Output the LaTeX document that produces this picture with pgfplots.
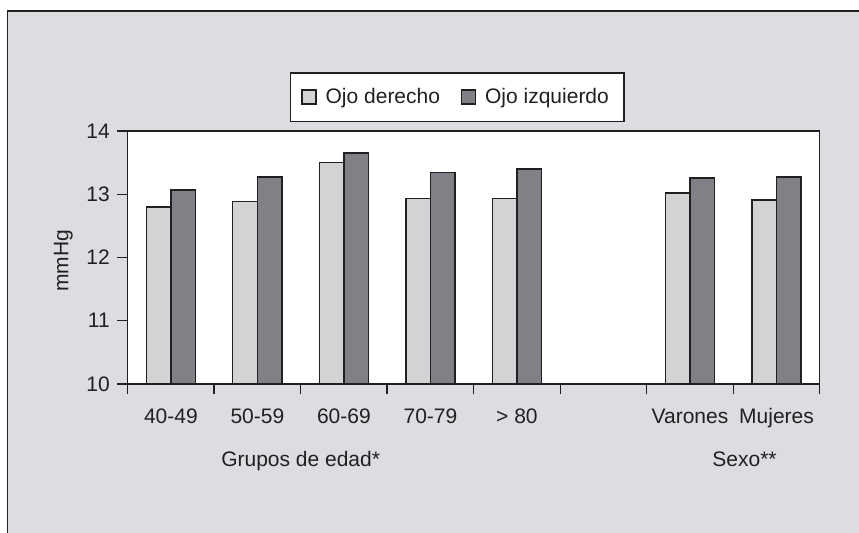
\documentclass[border=0pt]{standalone}
\usepackage{fontspec}
\setmainfont{Liberation Sans}
\usepackage{pgfplots}
\pgfplotsset{compat=1.18}
\definecolor{bg}{RGB}{220,221,224}
\definecolor{lightbar}{RGB}{210,211,213}
\definecolor{darkbar}{RGB}{128,129,134}
\definecolor{ink}{RGB}{35,31,32}
\pgfplotsset{sqlegend/.style={legend image code/.code={\draw[##1] (0pt,-3.5pt) rectangle (7pt,3.5pt);}}}
\begin{document}
\fontsize{10.5}{12.6}\selectfont
\begin{tikzpicture}
\useasboundingbox (0,0) rectangle (429.5pt,-266.5pt);
\fill[white] (0,0) rectangle (429.5pt,-266.5pt);
\fill[bg] (3.65pt,-5.65pt) rectangle (429.5pt,-266.5pt);
\draw[ink, line width=0.8pt] (3.65pt,-266.5pt) -- (3.65pt,-5.65pt) -- (429.5pt,-5.65pt);
\begin{axis}[
  at={(63.8pt,-192pt)}, anchor=south west,
  scale only axis, width=346.1pt, height=126.5pt,
  xmin=-0.5, xmax=7.5, ymin=10, ymax=14,
  clip mode=individual,
  ybar=0pt, bar width=12.3pt,
  axis background/.style={fill=white},
  axis on top,
  axis line style={ink, line width=0.7pt},
  tick style={ink, line width=0.7pt},
  tick align=outside, major tick length=5.25pt,
  xtick pos=bottom, ytick pos=left,
  xtick={-0.5,0.5,1.5,2.5,3.5,4.5,5.5,6.5,7.5}, xticklabels={},
  extra x ticks={0,1,2,3,4,5,6,7},
  extra x tick labels={40-49,50-59,60-69,70-79,{> 80},{},Varones,Mujeres},
  extra x tick style={major tick length=0pt, tick style={draw=none},
     tick label style={text height=7.5pt, text depth=0pt, yshift=-8.6pt}},
  ytick={10,11,12,13,14},
  /pgf/number format/assume math mode=true,
  ticklabel style={text=ink, font=\fontsize{10.5}{12.6}\selectfont},
  ylabel={mmHg},
  every axis y label/.style={at={([xshift=-32.15pt]axis description cs:0,0.486)}, rotate=90, anchor=center, text=ink, font=\fontsize{10.5}{12.6}\selectfont},
  legend columns=2,
  legend cell align=left,
  legend style={at={(0.476,1.134)}, anchor=center, draw=ink, line width=0.7pt, fill=white,
     text=ink, font=\fontsize{10.5}{12.6}\selectfont,
     /tikz/every odd column/.append style={column sep=2.5pt},
     /tikz/every even column/.append style={column sep=8.35pt},
     inner xsep=5.5pt, inner ysep=5.5pt},
]
\addplot[fill=lightbar, draw=ink, line width=0.7pt, sqlegend]
  coordinates {(0,12.80) (1,12.89) (2,13.50) (3,12.93) (4,12.93) (6,13.02) (7,12.91)};
\addplot[fill=darkbar, draw=ink, line width=0.7pt, sqlegend]
  coordinates {(0,13.07) (1,13.27) (2,13.65) (3,13.34) (4,13.40) (6,13.26) (7,13.27)};
\legend{Ojo derecho, Ojo izquierdo\hspace{7pt}}
\node[text=ink, anchor=base, font=\fontsize{10.5}{12.6}\selectfont] at ([yshift=-41.4pt]axis cs:1.5,10) {Grupos de edad*};
\node[text=ink, anchor=base, font=\fontsize{10.5}{12.6}\selectfont] at ([yshift=-41.4pt]axis cs:6.63,10) {Sexo**};
\end{axis}
\end{tikzpicture}
\end{document}
